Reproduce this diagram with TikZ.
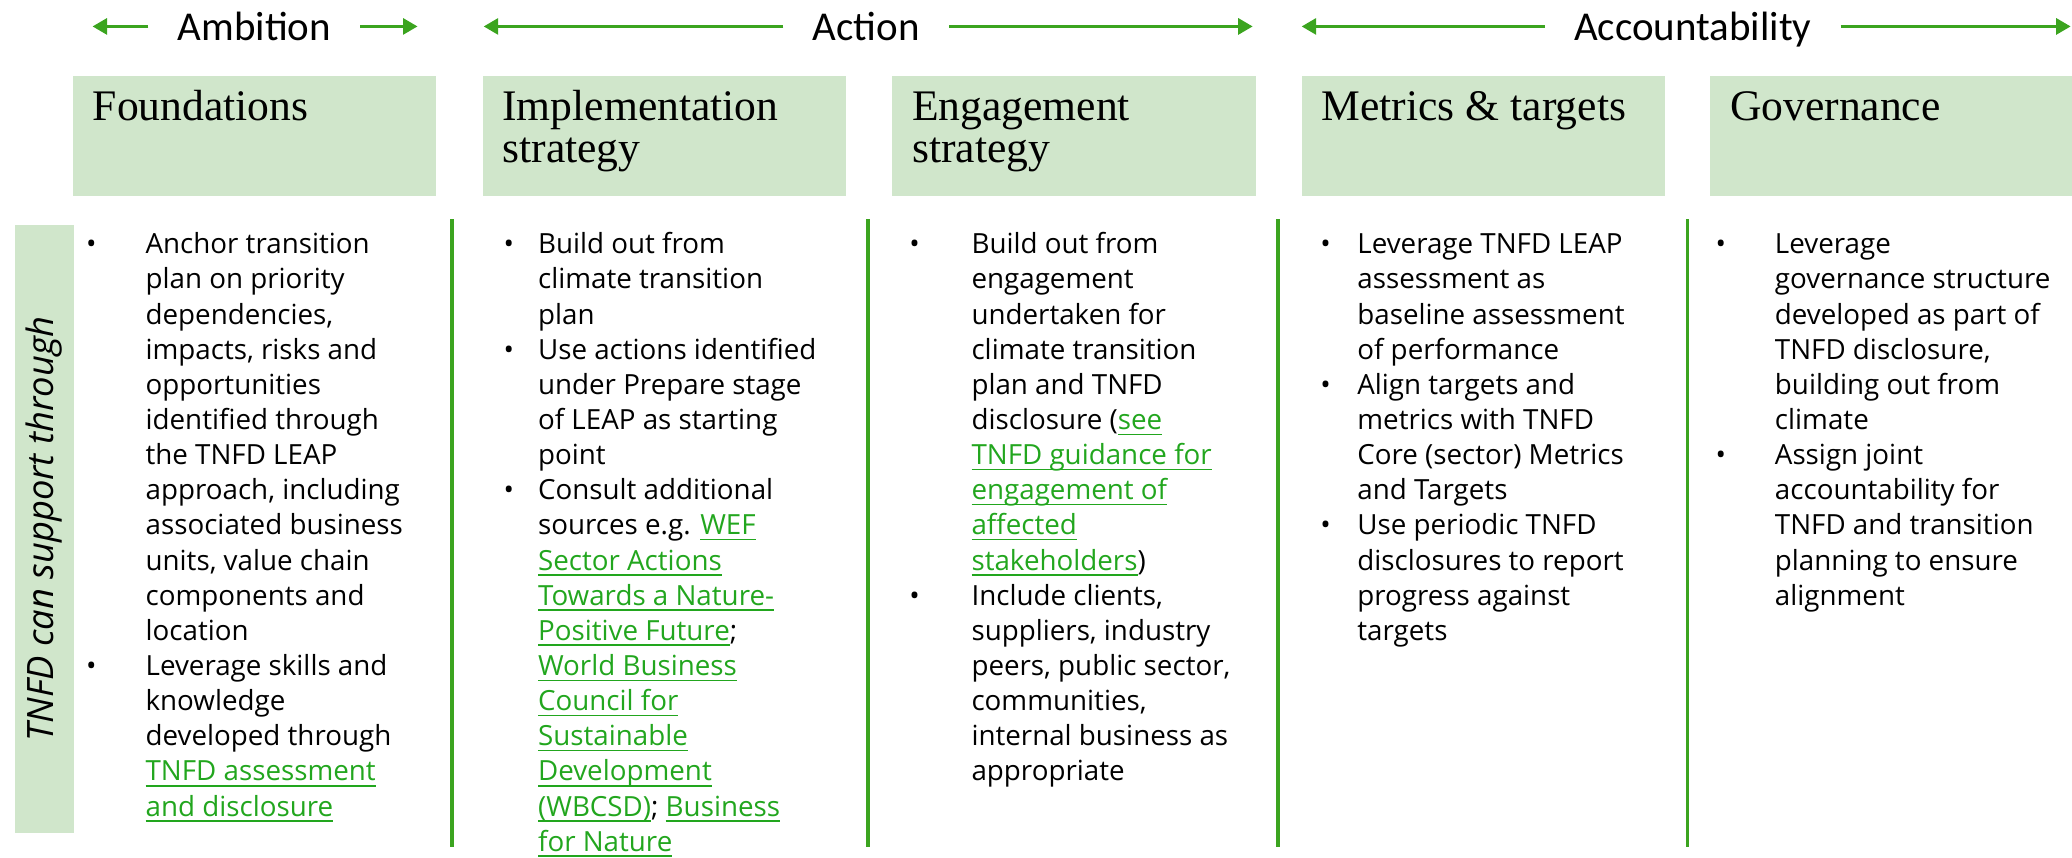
\documentclass[tikz,border=0pt]{standalone}
\usepackage{fontspec}
\setmainfont{Open Sans}
\newfontfamily\headfont{Liberation Serif}
\newfontfamily\topfont{Carlito}
\usetikzlibrary{arrows.meta}
\definecolor{linegreen}{HTML}{3BA41F}
\definecolor{linkgreen}{HTML}{22A61E}
\definecolor{headfill}{HTML}{D0E6CB}
\newsavebox\lnkbox
\newcommand{\lnk}[1]{\sbox\lnkbox{#1}{\color{linkgreen}\rlap{\rule[-4.2pt]{\wd\lnkbox}{1.1pt}}#1}}
\newcommand{\bulletcol}[2]{\begin{tabular}[t]{@{}p{#1}@{}l@{}}#2\end{tabular}}
\newcommand{\headlines}[1]{\begin{tabular}[t]{@{}l@{}}#1\end{tabular}}

\begin{document}
\begin{tikzpicture}[x=1pt,y=-1pt,
	toplabel/.style={font=\topfont\fontsize{31}{31}\selectfont,text height=22pt,text depth=0pt,inner xsep=22pt,inner ysep=0pt},
	toparrow/.style={draw=linegreen,line width=2.5pt,-{Triangle[length=11pt,width=12pt]}},
	headbox/.style={fill=headfill,anchor=north west,minimum width=275pt,minimum height=91pt,inner sep=0pt},
	headtext/.style={font=\headfont\fontsize{33}{32}\selectfont,anchor=base west,inner sep=0pt},
	bodytext/.style={font=\fontsize{21}{26.6}\selectfont,anchor=base west,inner sep=0pt},
	sidebox/.style={fill=headfill,anchor=north west,minimum width=45pt,minimum height=460pt,inner sep=0pt},
	sidetext/.style={font=\itshape\fontsize{27.5}{27.5}\selectfont,rotate=90,inner sep=0pt},
	sepline/.style={draw=linegreen,line width=3pt}]
	\useasboundingbox (0,0) rectangle (1568,649);
	
	\node[toplabel] (amb) at (192.5,20) {Ambition};
	\node[toplabel] (act) at (655.5,20) {Action};
	\node[toplabel] (acc) at (1281,20) {Accountability};
	\coordinate (ambL) at (70,20);
	\coordinate (ambR) at (316,20);
	\coordinate (actL) at (366,20);
	\coordinate (actR) at (948,20);
	\coordinate (accL) at (985,20);
	\coordinate (accR) at (1567,20);
	\draw[toparrow] (amb) -- (ambL);
	\draw[toparrow] (amb) -- (ambR);
	\draw[toparrow] (act) -- (actL);
	\draw[toparrow] (act) -- (actR);
	\draw[toparrow] (acc) -- (accL);
	\draw[toparrow] (acc) -- (accR);
	
	\node[headbox] (fnd) at (55,57) {};
	\node[headbox] (impl) at (365,57) {};
	\node[headbox] (eng) at (675,57) {};
	\node[headbox] (met) at (985,57) {};
	\node[headbox] (gov) at (1294,57) {};
	\path (fnd.north west) ++(15,34) node[headtext] (fndT) {\headlines{Foundations}};
	\path (impl.north west) ++(15,34) node[headtext] (implT) {\headlines{Implementation\\strategy}};
	\path (eng.north west) ++(15,34) node[headtext] (engT) {\headlines{Engagement\\strategy}};
	\path (met.north west) ++(15,34) node[headtext] (metT) {\headlines{Metrics \& targets}};
	\path (gov.north west) ++(15,34) node[headtext] (govT) {\headlines{Governance}};
	
	\node[sidebox] (side) at (11,170) {};
	\node[sidetext] (sideT) at (side.center) {TNFD can support through};
	
	\foreach \x in {342,657,967,1277}
		\draw[sepline] (\x,166) -- (\x,641);
	
	\node[bodytext] (fndB) at (65,192) {\bulletcol{45pt}{%
		\textbullet & Anchor transition\\
		& plan on priority\\
		& dependencies,\\
		& impacts, risks and\\
		& opportunities\\
		& identified through\\
		& the TNFD LEAP\\
		& approach, including\\
		& associated business\\
		& units, value chain\\
		& components and\\
		& location\\
		\textbullet & Leverage skills and\\
		& knowledge\\
		& developed through\\
		& \lnk{TNFD assessment}\\
		& \lnk{and disclosure}}};
	\node[bodytext] (implB) at (381,192) {\bulletcol{26pt}{%
		\textbullet & Build out from\\
		& climate transition\\
		& plan\\
		\textbullet & Use actions identified\\
		& under Prepare stage\\
		& of LEAP as starting\\
		& point\\
		\textbullet & Consult additional\\
		& sources e.g. \lnk{WEF}\\
		& \lnk{Sector Actions}\\
		& \lnk{Towards a Nature-}\\
		& \lnk{Positive Future};\\
		& \lnk{World Business}\\
		& \lnk{Council for}\\
		& \lnk{Sustainable}\\
		& \lnk{Development}\\
		& \lnk{(WBCSD)}; \lnk{Business}\\
		& \lnk{for Nature}}};
	\node[bodytext] (engB) at (688,192) {\bulletcol{47pt}{%
		\textbullet & Build out from\\
		& engagement\\
		& undertaken for\\
		& climate transition\\
		& plan and TNFD\\
		& disclosure (\lnk{see}\\
		& \lnk{TNFD guidance for}\\
		& \lnk{engagement of}\\
		& \lnk{affected}\\
		& \lnk{stakeholders})\\
		\textbullet & Include clients,\\
		& suppliers, industry\\
		& peers, public sector,\\
		& communities,\\
		& internal business as\\
		& appropriate}};
	\node[bodytext] (metB) at (999,192) {\bulletcol{28pt}{%
		\textbullet & Leverage TNFD LEAP\\
		& assessment as\\
		& baseline assessment\\
		& of performance\\
		\textbullet & Align targets and\\
		& metrics with TNFD\\
		& Core (sector) Metrics\\
		& and Targets\\
		\textbullet & Use periodic TNFD\\
		& disclosures to report\\
		& progress against\\
		& targets}};
	\node[bodytext] (govB) at (1298,192) {\bulletcol{45pt}{%
		\textbullet & Leverage\\
		& governance structure\\
		& developed as part of\\
		& TNFD disclosure,\\
		& building out from\\
		& climate\\
		\textbullet & Assign joint\\
		& accountability for\\
		& TNFD and transition\\
		& planning to ensure\\
		& alignment}};
\end{tikzpicture}
\end{document}
